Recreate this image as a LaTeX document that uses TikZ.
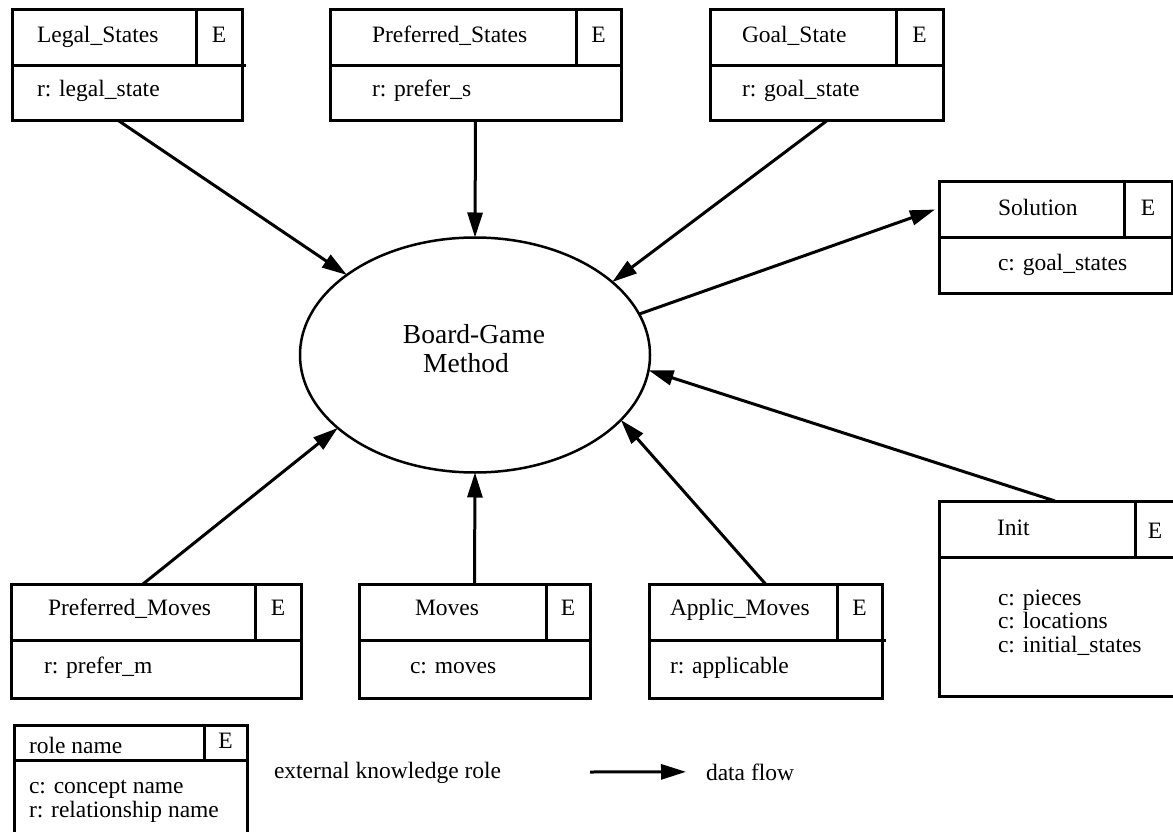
\documentclass[tikz,border=0pt]{standalone}
\usepackage{fontspec}
\setmainfont{Liberation Serif}
\usetikzlibrary{arrows.meta,shapes.geometric}
\tikzset{
  cell/.style={draw, line width=3pt, rectangle, inner sep=0pt, outer sep=0pt, anchor=north west},
  frame/.style={line width=3pt},
  txt/.style={inner sep=0pt, outer sep=0pt, anchor=base west, font=\fontsize{23.5}{23.5}\selectfont},
  etxt/.style={txt, anchor=base},
  flow/.style={line width=3pt, -{Triangle[length=25pt,width=15pt]}},
  method/.style={draw, ellipse, line width=2.5pt, minimum width=350pt, minimum height=235pt, inner sep=0pt, outer sep=0pt},
  mtxt/.style={inner sep=0pt, outer sep=0pt, anchor=base, font=\fontsize{27.5}{29}\selectfont}
}
\begin{document}
\begin{tikzpicture}[x=1pt, y=-1pt]
\useasboundingbox (0,0) rectangle (1173,832);
\clip (0,0) rectangle (1173,832);
\fill[white] (0,0) rectangle (1173,832);

% central method
\node[method] (bg) at (475,355) {};
\node[mtxt] (bgT1) at (474,343) {Board-Game};
\node[mtxt] (bgT2) at (466,372) {Method};

% Legal_States
\node[cell, minimum width=230pt, minimum height=56pt] (legalH) at (12,10) {};
\node[cell, minimum width=230pt, minimum height=55pt] (legalB) at (12,66) {};
\draw[frame] (196,10) -- (196,66);
\draw[frame] (242,66) -- (246,66);
\node[txt] (legalN) at (37,43) {Legal\_States};
\node[etxt] (legalE) at (219,43) {E};
\node[txt] (legalR) at (37,97) {r: legal\_state};

% Preferred_States
\node[cell, minimum width=291pt, minimum height=56pt] (prefSH) at (330,10) {};
\node[cell, minimum width=291pt, minimum height=55pt] (prefSB) at (330,66) {};
\draw[frame] (576,10) -- (576,66);
\node[txt] (prefSN) at (372,43) {Preferred\_States};
\node[etxt] (prefSE) at (598.5,43) {E};
\node[txt] (prefSR) at (372,97) {r: prefer\_s};

% Goal_State
\node[cell, minimum width=233pt, minimum height=56pt] (goalH) at (710,10) {};
\node[cell, minimum width=233pt, minimum height=55pt] (goalB) at (710,66) {};
\draw[frame] (896,10) -- (896,66);
\node[txt] (goalN) at (742,43) {Goal\_State};
\node[etxt] (goalE) at (919.5,43) {E};
\node[txt] (goalR) at (742,97) {r: goal\_state};

% Solution
\node[cell, minimum width=233pt, minimum height=55pt] (solH) at (939,182) {};
\node[cell, minimum width=233pt, minimum height=56pt] (solB) at (939,237) {};
\draw[frame] (1124,182) -- (1124,237);
\node[txt] (solN) at (998,215) {Solution};
\node[etxt] (solE) at (1148,215) {E};
\node[txt] (solR) at (998,270) {c: goal\_states};

% Init
\node[cell, minimum width=260pt, minimum height=56pt] (initH) at (939,501) {};
\node[cell, minimum width=260pt, minimum height=139pt] (initB) at (939,557) {};
\draw[frame] (1135,501) -- (1135,557);
\node[txt] (initN) at (997,535) {Init};
\node[etxt] (initE) at (1155,538) {E};
\node[txt] (initC1) at (998,605) {c: pieces};
\node[txt] (initC2) at (998,628) {c: locations};
\node[txt] (initC3) at (998,652) {c: initial\_states};

% Preferred_Moves
\node[cell, minimum width=290pt, minimum height=56pt] (prefMH) at (11,584) {};
\node[cell, minimum width=290pt, minimum height=58pt] (prefMB) at (11,640) {};
\draw[frame] (255,584) -- (255,640);
\node[txt] (prefMN) at (48,615) {Preferred\_Moves};
\node[etxt] (prefME) at (278,615) {E};
\node[txt] (prefMR) at (44,673) {r: prefer\_m};

% Moves
\node[cell, minimum width=231pt, minimum height=56pt] (movesH) at (359,584) {};
\node[cell, minimum width=231pt, minimum height=58pt] (movesB) at (359,640) {};
\draw[frame] (546,584) -- (546,640);
\node[txt] (movesN) at (415,615) {Moves};
\node[etxt] (movesE) at (568,615) {E};
\node[txt] (movesR) at (410,673) {c: moves};

% Applic_Moves
\node[cell, minimum width=233pt, minimum height=56pt] (applicH) at (649,584) {};
\node[cell, minimum width=233pt, minimum height=58pt] (applicB) at (649,640) {};
\draw[frame] (837,584) -- (837,640);
\draw[frame] (882,640) -- (886,640);
\node[txt] (applicN) at (670,615) {Applic\_Moves};
\node[etxt] (applicE) at (859.5,615) {E};
\node[txt] (applicR) at (670,673) {r: applicable};

% Legend
\node[cell, minimum width=233pt, minimum height=35pt] (legH) at (14,725) {};
\node[cell, minimum width=233pt, minimum height=90pt] (legB) at (14,760) {};
\draw[frame] (204,725) -- (204,760);
\node[txt] (legN) at (29,753) {role name};
\node[etxt] (legE) at (225.5,748) {E};
\node[txt] (legC) at (29,793) {c: concept name};
\node[txt] (legR) at (29,817) {r: relationship name};
\node[txt] (legX) at (274,778) {external knowledge role};
\node[txt] (dflow) at (706,780) {data flow};
\coordinate (lgA) at (590,772);
\draw[flow] (lgA) -- ([xshift=-20pt]dflow.west);

% data flows
\draw[flow] ([xshift=-8pt]legalB.south) -- (bg.148.4);
\draw[flow] (prefSB.south) -- (bg.90);
\draw[flow] (goalB.south) -- (bg.28.5);
\draw[flow] (bg.14.6) -- ([xshift=-4pt]solH.west);
\draw[flow] ([xshift=116pt]initH.north west) -- (bg.355);
\draw[flow] (applicH.north) -- (bg.336.8);
\draw[flow] (movesH.north) -- (bg.270);
\draw[flow] ([xshift=-13pt]prefMH.north) -- (bg.208.4);
\end{tikzpicture}
\end{document}
